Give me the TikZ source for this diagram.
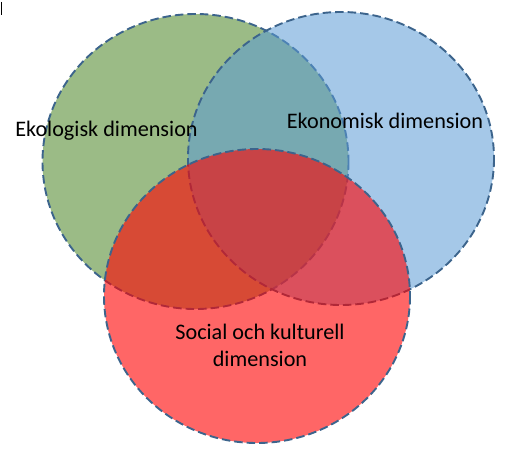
\documentclass[tikz,border=0pt]{standalone}
\usepackage{fontspec}
\setmainfont{Carlito}
\usepackage{xcolor}
\definecolor{g1}{RGB}{155,187,134}
\definecolor{b1}{HTML}{5B9BD5}
\definecolor{r1}{RGB}{255,0,0}
\definecolor{e1}{RGB}{60,100,140}

\begin{document}
\begin{tikzpicture}[x=1pt, y=-1pt, line join=round]

			% picture frame, in pixel units (y runs downwards)
			\useasboundingbox (0,0) rectangle (526,460);
			\tikzset{
				ring/.style={draw=e1, line width=1.9pt, dash pattern=on 8.5pt off 4pt},
				lbl/.style={font=\fontsize{22.2}{27}\selectfont, text=black, inner sep=0pt}
			}

			% small caret at the top left corner
			\draw[line width=1pt] (1,2) -- (1,15);

			% ecological set
			\draw[ring, fill=g1] (195.5,161.5) ellipse [x radius=153, y radius=147.5];

			% economic set
			\draw[ring, fill=b1, fill opacity=0.55] (341,158.5) ellipse [x radius=153, y radius=146.5];

			% social set
			\draw[ring, fill=r1, fill opacity=0.6] (257,296) ellipse [x radius=153, y radius=147];

			% labels
			\node[lbl, anchor=base] (eko) at (106.5,136) {Ekologisk dimension};
			\node[lbl, anchor=base] (ekon) at (385,128) {Ekonomisk dimension};
			\node[lbl, anchor=base, align=center] (soc) at (260,366) {Social och kulturell\\dimension};

		\end{tikzpicture}
\end{document}
